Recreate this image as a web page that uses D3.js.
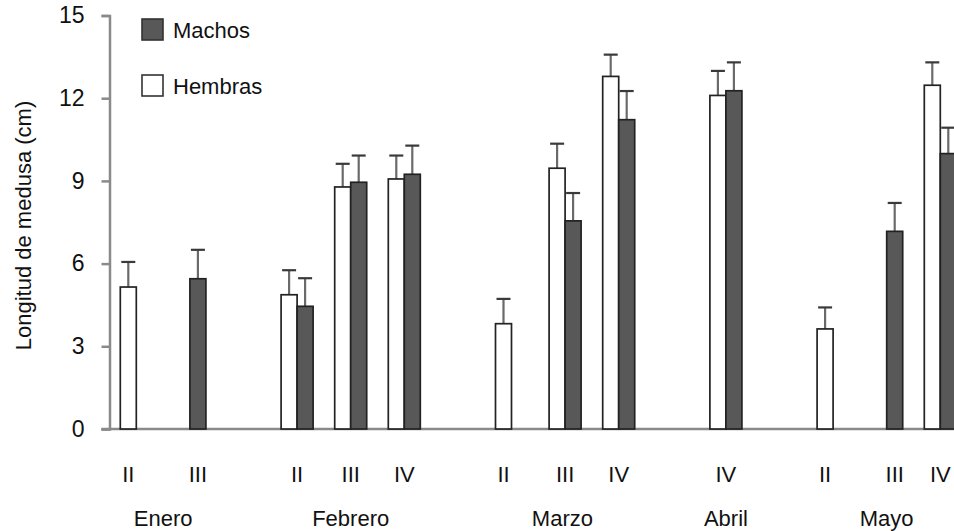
<!DOCTYPE html>
<html><head><meta charset="utf-8">
<script src="https://cdn.jsdelivr.net/npm/d3@7"></script>
<style>
html,body{margin:0;padding:0;background:#fff;}
text{font-family:"Liberation Sans",Arial,sans-serif;fill:#111;}
.num{font-family:"Liberation Sans Narrow","Liberation Sans",Arial,sans-serif;}
</style></head>
<body>
<svg id="chart" width="954" height="531"></svg>
<script>
// ---- data ----
const months = ["Enero","Febrero","Marzo","Abril","Mayo"];
const catMonth = ["Enero","Enero","Febrero","Febrero","Febrero","Marzo","Marzo","Marzo","Abril","Mayo","Mayo","Mayo"];
const catStage = ["II","III","II","III","IV","II","III","IV","IV","II","III","IV"];
const hembras    = [5.15, null, 4.87, 8.78, 9.07, 3.82, 9.46, 12.79, 12.10, 3.63, null, 12.47];
const hembrasErr = [0.91, null, 0.89, 0.84, 0.85, 0.90, 0.89, 0.79, 0.89, 0.78, null, 0.83];
const machos     = [null, 5.45, 4.45, 8.95, 9.24, null, 7.55, 11.22, 12.27, null, 7.17, 9.99];
const machosErr  = [null, 1.05, 1.02, 0.97, 1.04, null, 1.01, 1.04, 1.03, null, 1.03, 0.94];
const yTicks = [0,3,6,9,12,15];
const seriesNames = ["Machos","Hembras"];

// ---- layout ----
const svg = d3.select("#chart");
const x0 = 109.5, step = 53.6, barW = 16;

// slot domain: categories with one empty slot between months
const slots = [];
const catSlot = [];
months.forEach((m, mi) => {
  catMonth.forEach((cm, i) => { if (cm === m) { catSlot[i] = "c" + i; slots.push("c" + i); } });
  if (mi < months.length - 1) slots.push("gap" + mi);
});
const x = d3.scaleBand().domain(slots).range([x0, x0 + step * slots.length]).padding(0);
const y = d3.scaleLinear().domain([0, 15]).range([429, 15.5]);

const center = i => x(catSlot[i]) + x.bandwidth() / 2;

// axes
const axisColor = "#8a8a8a";
const yAxis = svg.append("g").attr("transform", `translate(${x0},0)`)
  .call(d3.axisLeft(y).tickValues(yTicks).tickSize(8).tickPadding(17).tickFormat(d3.format("d")));
yAxis.select(".domain").attr("stroke", axisColor).attr("stroke-width", 2.5);
yAxis.selectAll(".tick line").attr("stroke", axisColor).attr("stroke-width", 2.5);
yAxis.selectAll(".tick text").attr("class", "num").style("font-size", "23px").attr("fill", "#111");

// baseline
svg.append("line").attr("x1", x0 - 8).attr("x2", 954).attr("y1", y(0)).attr("y2", y(0))
  .attr("stroke", axisColor).attr("stroke-width", 2.5);

// bars
const bars = [];
catStage.forEach((s, i) => {
  const c = center(i);
  if (hembras[i] != null) bars.push({v: hembras[i], e: hembrasErr[i], x: c - barW, fill: "#ffffff"});
  if (machos[i] != null) bars.push({v: machos[i], e: machosErr[i], x: c, fill: "#585858"});
});
// error bars
const eg = svg.append("g");
bars.forEach(b => {
  const cx = b.x + barW / 2;
  eg.append("line").attr("x1", cx).attr("x2", cx).attr("y1", y(b.v)).attr("y2", y(b.v + b.e))
    .attr("stroke", "#6a6a6a").attr("stroke-width", 2.2);
  eg.append("line").attr("x1", cx - 7).attr("x2", cx + 7).attr("y1", y(b.v + b.e)).attr("y2", y(b.v + b.e))
    .attr("stroke", "#3a3a3a").attr("stroke-width", 2.2);
});
svg.append("g").selectAll("rect").data(bars).join("rect")
  .attr("x", d => d.x).attr("width", barW)
  .attr("y", d => y(d.v)).attr("height", d => y(0) - y(d.v))
  .attr("fill", d => d.fill).attr("stroke", "#222").attr("stroke-width", 1.7);

// stage labels (centered under present bars)
const labelX = catStage.map((s, i) => {
  const c = center(i);
  if (hembras[i] != null && machos[i] != null) return c;
  return hembras[i] != null ? c - barW / 2 : c + barW / 2;
});
svg.append("g").selectAll("text").data(catStage).join("text")
  .attr("x", (d, i) => labelX[i]).attr("y", 482)
  .attr("text-anchor", "middle").style("font-size", "22px").text(d => d);

// month labels
svg.append("g").selectAll("text").data(months).join("text")
  .attr("x", m => d3.mean(labelX.filter((v, i) => catMonth[i] === m)))
  .attr("y", 526).attr("text-anchor", "middle").style("font-size", "22px").text(m => m);

// y label
svg.append("text").attr("transform", "translate(31,225.5) rotate(-90)")
  .attr("text-anchor", "middle").style("font-size", "22px").text("Longitud de medusa (cm)");

// legend
const legFill = ["#585858", "#ffffff"];
const lg = svg.append("g").selectAll("g").data(seriesNames).join("g")
  .attr("transform", (d, i) => `translate(142,${19 + i * 56})`);
lg.append("rect").attr("width", 21).attr("height", 21).attr("fill", (d, i) => legFill[i])
  .attr("stroke", "#333").attr("stroke-width", 1.6);
lg.append("text").attr("x", 31).attr("y", 18.5).style("font-size", "22px").text(d => d);
</script>
</body></html>
